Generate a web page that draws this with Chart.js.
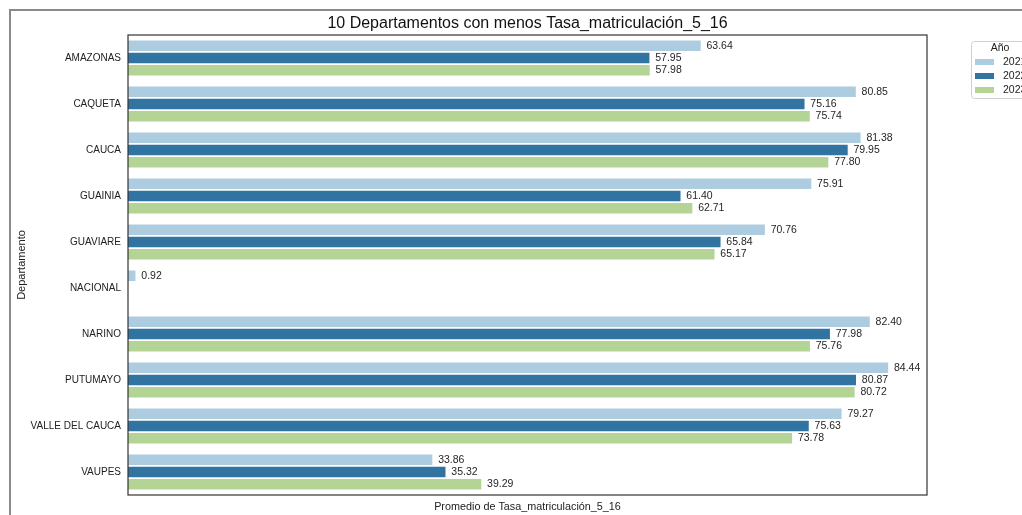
<!DOCTYPE html>
<html>
<head>
<meta charset="utf-8">
<script src="https://cdn.jsdelivr.net/npm/chart.js@4"></script>
<style>
  html, body { margin: 0; padding: 0; background: #fff; }
  #frame {
    position: absolute; left: 9px; top: 9px; width: 2000px; height: 1000px;
    border-top: 2px solid #8a8a8a; border-left: 2px solid #8a8a8a;
  }
  #c { position: absolute; left: 0; top: 0; }
</style>
</head>
<body>
<div id="frame"></div>
<canvas id="c" width="1022" height="515"></canvas>
<script>
// datos
const departamentos = ['AMAZONAS', 'CAQUETA', 'CAUCA', 'GUAINIA', 'GUAVIARE',
    'NACIONAL', 'NARINO', 'PUTUMAYO', 'VALLE DEL CAUCA', 'VAUPES'];
const anios = ['2021', '2022', '2023'];
const tasa2021 = [63.64, 80.85, 81.38, 75.91, 70.76, 0.92, 82.40, 84.44, 79.27, 33.86];
const tasa2022 = [57.95, 75.16, 79.95, 61.40, 65.84, null, 77.98, 80.87, 75.63, 35.32];
const tasa2023 = [57.98, 75.74, 77.80, 62.71, 65.17, null, 75.76, 80.72, 73.78, 39.29];
const colores = ['#aeccdf', '#3274a1', '#b3d495'];

const FONT = '"Liberation Sans", Arial, sans-serif';

// titulo, ejes, etiquetas y leyenda
const decoraciones = {
    id: 'decoraciones',
    afterDatasetsDraw(chart) {
        const ctx = chart.ctx;
        const a = chart.chartArea;
        ctx.save();

        // etiquetas de valores
        ctx.font = '10.5px ' + FONT;
        ctx.fillStyle = '#262626';
        ctx.textBaseline = 'middle';
        ctx.textAlign = 'left';
        chart.data.datasets.forEach((ds, di) => {
            const meta = chart.getDatasetMeta(di);
            meta.data.forEach((el, i) => {
                const v = ds.data[i];
                if (v === null || v === undefined) return;
                ctx.fillText(v.toFixed(2), el.x + 5, el.y);
            });
        });

        // marco del area
        ctx.strokeStyle = '#333';
        ctx.lineWidth = 1.2;
        ctx.strokeRect(a.left, a.top, a.right - a.left, a.bottom - a.top);

        // titulo
        ctx.fillStyle = '#111';
        ctx.font = '16px ' + FONT;
        ctx.textAlign = 'center';
        ctx.fillText('10 Departamentos con menos Tasa_matriculación_5_16', (a.left + a.right) / 2, 24);

        // titulo eje x
        ctx.font = '10.8px ' + FONT;
        ctx.fillStyle = '#222';
        ctx.fillText('Promedio de Tasa_matriculación_5_16', (a.left + a.right) / 2, 507);

        // titulo eje y
        ctx.save();
        ctx.translate(22, (a.top + a.bottom) / 2);
        ctx.rotate(-Math.PI / 2);
        ctx.font = '11px ' + FONT;
        ctx.fillText('Departamento', 0, 0);
        ctx.restore();

        // leyenda
        ctx.fillStyle = '#fff';
        ctx.strokeStyle = '#d0d0d0';
        ctx.lineWidth = 1;
        ctx.beginPath();
        ctx.roundRect(971.5, 41.5, 80, 57, 3);
        ctx.fill();
        ctx.stroke();
        ctx.fillStyle = '#222';
        ctx.font = '10.5px ' + FONT;
        ctx.textAlign = 'center';
        ctx.fillText('Año', 1000, 48);
        ctx.textAlign = 'left';
        anios.forEach((y, i) => {
            const cy = 62 + i * 14;
            ctx.fillStyle = colores[i];
            ctx.fillRect(975, cy - 3, 19, 6);
            ctx.fillStyle = '#222';
            ctx.fillText(y, 1003, cy);
        });

        ctx.restore();
    }
};

const series = [tasa2021, tasa2022, tasa2023];

new Chart(document.getElementById('c'), {
    type: 'bar',
    data: {
        labels: departamentos,
        datasets: anios.map((y, i) => ({
            label: y,
            data: series[i],
            backgroundColor: colores[i],
            borderColor: '#ffffff',
            borderWidth: 0.8,
            borderSkipped: 'start',
            categoryPercentage: 0.8,
            barPercentage: 1.0
        }))
    },
    options: {
        indexAxis: 'y',
        responsive: false,
        animation: false,
        devicePixelRatio: 1,
        layout: { padding: { left: 0, top: 35, right: 95, bottom: 20 } },
        plugins: {
            legend: { display: false },
            title: { display: false },
            tooltip: { enabled: false }
        },
        scales: {
            x: {
                display: false,
                min: 0,
                max: 88.66
            },
            y: {
                grid: { display: false, drawTicks: false },
                border: { display: false },
                ticks: {
                    font: { family: FONT, size: 10 },
                    color: '#222',
                    padding: 7
                },
                afterFit(scale) { scale.width = 128; }
            }
        }
    },
    plugins: [decoraciones]
});
</script>
</body>
</html>
